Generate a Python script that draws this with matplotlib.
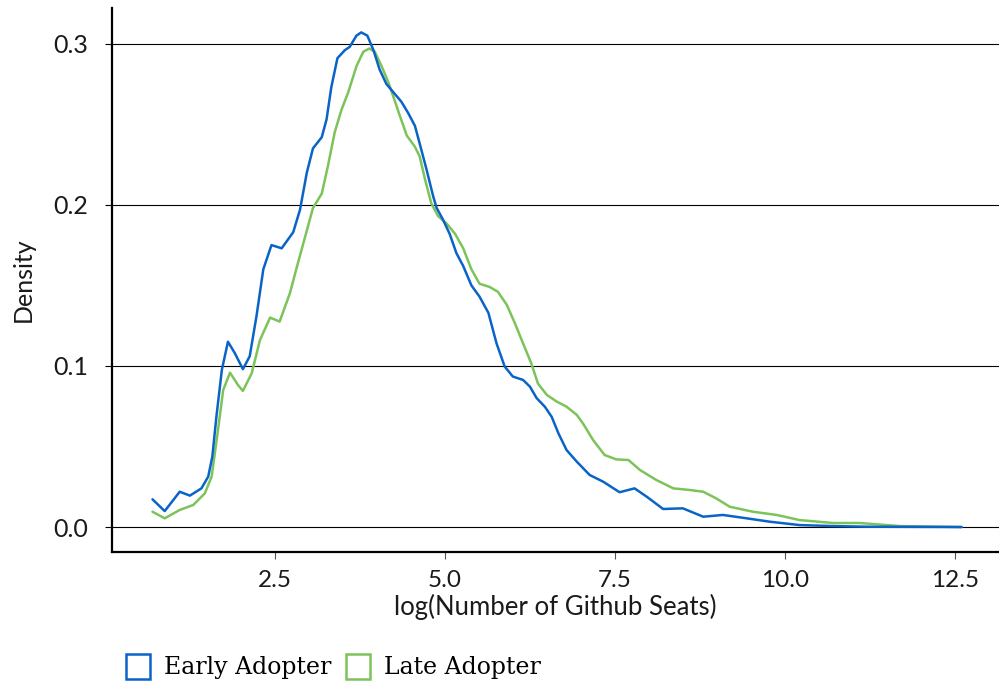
import matplotlib
matplotlib.use("Agg")
import matplotlib.pyplot as plt
import matplotlib.patches as mpatches

# Early Adopter density curve
early_x = [0.70, 0.88, 1.10, 1.25, 1.42, 1.52, 1.58, 1.64, 1.72, 1.81, 1.91, 2.03, 2.13,
           2.23, 2.33, 2.45, 2.60, 2.77, 2.87, 2.97, 3.06, 3.19, 3.26, 3.33, 3.42, 3.53,
           3.60, 3.70, 3.77, 3.86, 3.95, 4.04, 4.14, 4.24, 4.36, 4.46, 4.56, 4.63, 4.73,
           4.83, 4.88, 4.97, 5.07, 5.17, 5.27, 5.39, 5.51, 5.64, 5.76, 5.88, 6.00, 6.15,
           6.25, 6.35, 6.47, 6.57, 6.67, 6.79, 6.94, 7.13, 7.33, 7.57, 7.79, 7.97, 8.21,
           8.50, 8.80, 9.09, 9.44, 9.78, 10.22, 10.71, 11.21, 12.60]
early_y = [0.0172, 0.0099, 0.0219, 0.0195, 0.024, 0.0313, 0.0437, 0.0685, 0.0975, 0.115,
           0.108, 0.098, 0.106, 0.131, 0.160, 0.175, 0.173, 0.183, 0.197, 0.220, 0.235,
           0.242, 0.253, 0.273, 0.291, 0.296, 0.298, 0.305, 0.307, 0.305, 0.296, 0.284,
           0.275, 0.270, 0.264, 0.257, 0.249, 0.238, 0.222, 0.205, 0.198, 0.191, 0.182,
           0.170, 0.162, 0.150, 0.143, 0.133, 0.114, 0.0996, 0.0934, 0.0913, 0.0872,
           0.080, 0.0747, 0.0685, 0.0582, 0.0478, 0.0406, 0.0323, 0.0281, 0.0216, 0.024,
           0.0188, 0.0112, 0.0116, 0.0064, 0.0075, 0.0054, 0.0033, 0.0012, 0.0006, 0.0002,
           0.0]

# Late Adopter density curve
late_x = [0.70, 0.88, 1.10, 1.30, 1.47, 1.57, 1.65, 1.74, 1.84, 1.96, 2.03, 2.16, 2.28,
          2.43, 2.57, 2.72, 2.84, 2.97, 3.06, 3.19, 3.28, 3.38, 3.48, 3.58, 3.70, 3.80,
          3.89, 3.97, 4.07, 4.17, 4.26, 4.34, 4.44, 4.56, 4.63, 4.71, 4.80, 4.90, 5.02,
          5.15, 5.27, 5.39, 5.51, 5.66, 5.78, 5.91, 6.03, 6.15, 6.27, 6.37, 6.50, 6.64,
          6.79, 6.94, 7.03, 7.18, 7.35, 7.52, 7.70, 7.87, 8.11, 8.36, 8.60, 8.80, 8.99,
          9.19, 9.53, 9.88, 10.22, 10.71, 11.10, 11.69, 12.60]
late_y = [0.0095, 0.0054, 0.0106, 0.0137, 0.0209, 0.0313, 0.056, 0.085, 0.0958, 0.088,
          0.0845, 0.0955, 0.116, 0.130, 0.1275, 0.145, 0.164, 0.184, 0.198, 0.207, 0.224,
          0.245, 0.259, 0.270, 0.286, 0.295, 0.297, 0.295, 0.286, 0.276, 0.265, 0.255,
          0.243, 0.236, 0.230, 0.2155, 0.201, 0.193, 0.1886, 0.182, 0.173, 0.160, 0.151,
          0.149, 0.146, 0.138, 0.1265, 0.114, 0.1017, 0.089, 0.082, 0.078, 0.0747, 0.0696,
          0.0644, 0.054, 0.0447, 0.042, 0.0416, 0.0354, 0.0292, 0.024, 0.023, 0.0219,
          0.0178, 0.0126, 0.0095, 0.0075, 0.0043, 0.0025, 0.0025, 0.0006, 0.0]

series_names = ["Early Adopter", "Late Adopter"]
series_colors = ["#0a64c8", "#7cc35a"]
x_ticks = [2.5, 5.0, 7.5, 10.0, 12.5]
y_ticks = [0.0, 0.1, 0.2, 0.3]

plt.rcParams['font.family'] = ['Lato', 'DejaVu Sans']

fig = plt.figure(figsize=(9.99, 6.87), dpi=100)
ax = fig.add_axes([0.1118, 0.1965, 0.8882, 0.7915])

for yt in y_ticks:
    ax.axhline(yt, color='black', lw=0.8, zorder=0)

ax.plot(early_x, early_y, color=series_colors[0], lw=1.8, zorder=3,
        solid_joinstyle='round', solid_capstyle='round')
ax.plot(late_x, late_y, color=series_colors[1], lw=1.8, zorder=2,
        solid_joinstyle='round', solid_capstyle='round')

ax.set_xlim(0.1, 13.15)
ax.set_ylim(-0.0155, 0.322)
ax.set_xticks(x_ticks)
ax.set_xticklabels([f"{v:.1f}" for v in x_ticks])
ax.set_yticks(y_ticks)
ax.set_yticklabels([f"{v:.1f}" for v in y_ticks])

for s in ['top', 'right']:
    ax.spines[s].set_visible(False)
for s in ['left', 'bottom']:
    ax.spines[s].set_linewidth(1.6)
    ax.spines[s].set_color('black')

ax.tick_params(axis='y', length=5, width=0.8, color='black', pad=12, labelsize=18, labelcolor='#1a1a1a')
ax.tick_params(axis='x', length=5, width=0.8, color='#555555', pad=8, labelsize=17.5, labelcolor='#1a1a1a')

ax.set_xlabel("log(Number of Github Seats)", fontsize=18.5, color='#1a1a1a', labelpad=2)
ax.set_ylabel("Density", fontsize=18, color='#1a1a1a', labelpad=13)

handles = [mpatches.Patch(facecolor='white', edgecolor=c, lw=1.8, label=n)
           for n, c in zip(series_names, series_colors)]
fig.legend(handles=handles, loc='lower left', bbox_to_anchor=(0.105, -0.02), ncol=2,
           frameon=False, handlelength=1.0, handleheight=1.2, handletextpad=0.6,
           columnspacing=0.64, prop={'family': 'DejaVu Serif', 'size': 17})

fig.savefig("out.png", dpi=100)
